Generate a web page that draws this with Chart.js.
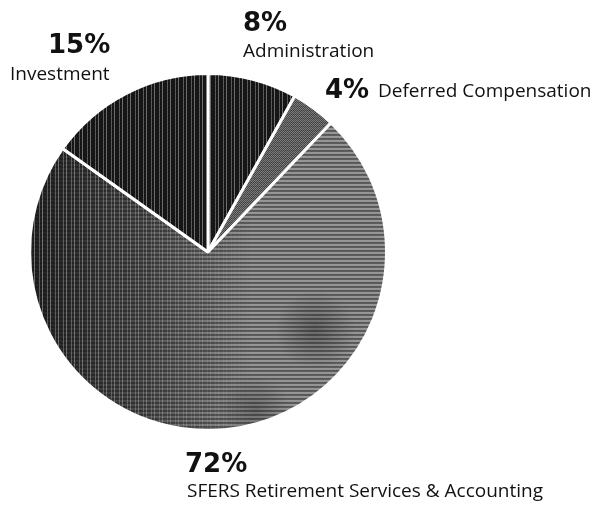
<!DOCTYPE html>
<html>
<head>
<meta charset="utf-8">
<script src="https://cdn.jsdelivr.net/npm/chart.js@4/dist/chart.umd.min.js"></script>
<style>
  html, body { margin: 0; padding: 0; background: #fff; }
  canvas { display: block; }
</style>
</head>
<body>
<canvas id="pie" width="605" height="506"></canvas>
<script>
// Budget share by division (percent)
const categories = ["Administration", "Deferred Compensation", "SFERS Retirement Services & Accounting", "Investment"];
const shares = [8, 4, 72, 15];
const shareLabels = ["8%", "4%", "72%", "15%"];

const W = 605, H = 506;

// Small repeating tile built from rows of grey levels (halftone print look)
function makeTile(rows) {
  const c = document.createElement('canvas');
  c.width = rows[0].length; c.height = rows.length;
  const g = c.getContext('2d');
  rows.forEach((row, y) => row.forEach((v, x) => {
    g.fillStyle = `rgb(${v},${v},${v})`;
    g.fillRect(x, y, 1, 1);
  }));
  return c;
}

const darkTile = makeTile([
  [20, 20, 110, 20, 30, 20, 20, 90],
  [25, 20, 120, 20, 20, 25, 20, 80],
  [20, 30, 100, 20, 20, 20, 30, 100],
  [20, 20, 115, 25, 20, 20, 20, 85]
]);
const checkTile = makeTile([
  [125, 70, 125, 70],
  [70, 125, 70, 125],
  [115, 60, 115, 60],
  [70, 125, 70, 125]
]);
const stripeTile = makeTile([
  [150, 150, 150, 150],
  [145, 150, 145, 150],
  [85, 90, 85, 90],
  [95, 90, 95, 90]
]);

const scratch = document.createElement('canvas').getContext('2d');
const darkStreaks = scratch.createPattern(darkTile, 'repeat');
const checker = scratch.createPattern(checkTile, 'repeat');

// Striped fill that turns into dark streaks toward the left; canvas-sized so it lines up with the page
function shadedStripes() {
  const c = document.createElement('canvas');
  c.width = W; c.height = H;
  const g = c.getContext('2d');
  g.fillStyle = g.createPattern(stripeTile, 'repeat');
  g.fillRect(0, 0, W, H);

  // dark streak layer, faded out by a left-to-right mask
  const layer = document.createElement('canvas');
  layer.width = W; layer.height = H;
  const l = layer.getContext('2d');
  l.fillStyle = l.createPattern(darkTile, 'repeat');
  l.fillRect(0, 0, W, H);
  l.globalCompositeOperation = 'destination-in';
  const mask = l.createLinearGradient(40, 0, 250, 0);
  mask.addColorStop(0, 'rgba(0,0,0,0.9)');
  mask.addColorStop(0.5, 'rgba(0,0,0,0.55)');
  mask.addColorStop(1, 'rgba(0,0,0,0)');
  l.fillStyle = mask;
  l.fillRect(0, 0, W, H);
  g.drawImage(layer, 0, 0);

  [[315, 330, 40, 0.35], [255, 410, 35, 0.3]].forEach(([x, y, r, a]) => {
    const rad = g.createRadialGradient(x, y, 0, x, y, r);
    rad.addColorStop(0, `rgba(20,20,20,${a})`);
    rad.addColorStop(1, 'rgba(20,20,20,0)');
    g.fillStyle = rad;
    g.fillRect(x - r, y - r, 2 * r, 2 * r);
  });
  return scratch.createPattern(c, 'no-repeat');
}

// Callout text: [percent x, percent baseline, name x, name baseline]
const calloutPos = [
  [243, 31, 243, 57],
  [325, 98, 378, 97],
  [185, 472, 187, 497],
  [48, 53, 10, 80]
];

const callouts = {
  id: 'callouts',
  afterDraw(chart) {
    const ctx = chart.ctx;
    ctx.save();
    ctx.fillStyle = '#111';
    ctx.textBaseline = 'alphabetic';
    ctx.textAlign = 'left';
    calloutPos.forEach((p, i) => {
      ctx.font = 'bold 26px "DejaVu Sans", sans-serif';
      ctx.fillText(shareLabels[i], p[0], p[1]);
      ctx.font = '19px "Open Sans", sans-serif';
      ctx.fillText(categories[i], p[2], p[3]);
    });
    ctx.restore();
  }
};

new Chart(document.getElementById('pie'), {
  type: 'pie',
  data: {
    labels: categories,
    datasets: [{
      data: shares,
      backgroundColor: [darkStreaks, checker, shadedStripes(), darkStreaks],
      borderColor: '#ffffff',
      borderWidth: 3
    }]
  },
  options: {
    responsive: false,
    animation: false,
    events: [],
    layout: { padding: { left: 28, right: 217, top: 72, bottom: 74 } },
    plugins: { legend: { display: false }, tooltip: { enabled: false } }
  },
  plugins: [callouts]
});
</script>
</body>
</html>
